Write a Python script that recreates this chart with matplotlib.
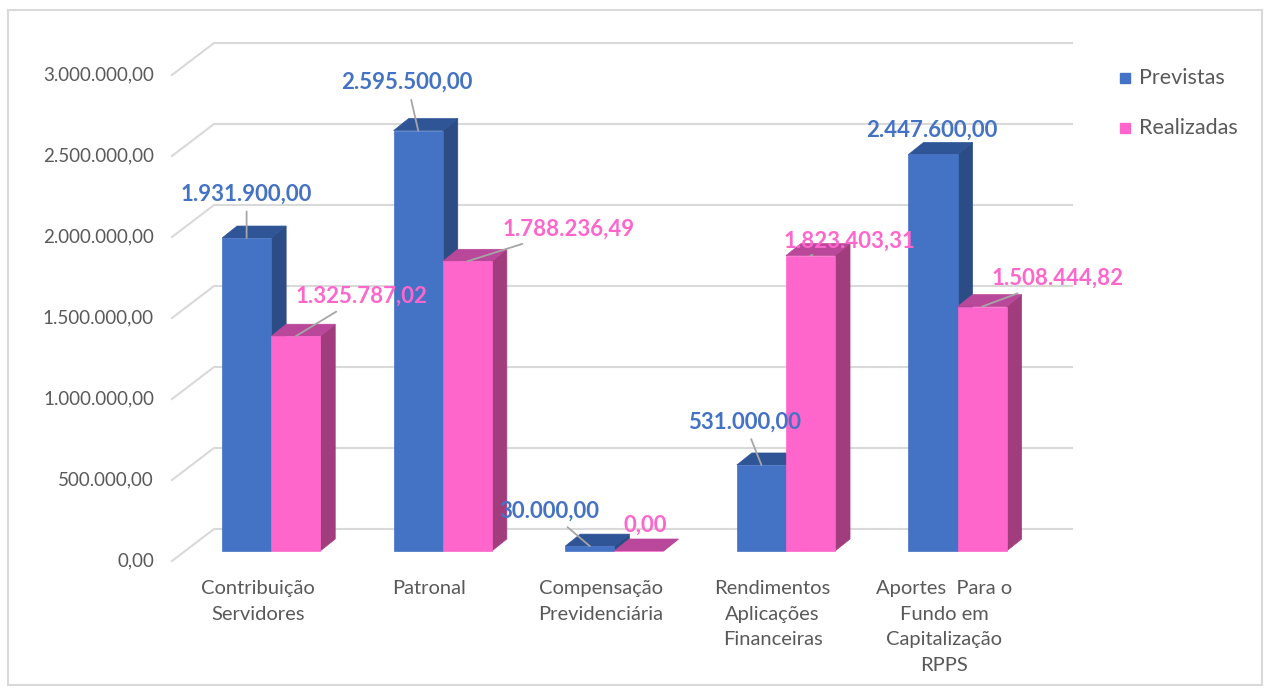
import matplotlib
matplotlib.use("Agg")
import matplotlib.pyplot as plt
from matplotlib.patches import Polygon, Rectangle
from matplotlib.transforms import IdentityTransform

plt.rcParams['font.family'] = ['Lato', 'DejaVu Sans']

# data
categories = ["Contribuição\nServidores", "Patronal", "Compensação\nPrevidenciária",
              "Rendimentos\nAplicações\nFinanceiras", "Aportes  Para o\nFundo em\nCapitalização\nRPPS"]
previstas = [1931900.00, 2595500.00, 30000.00, 531000.00, 2447600.00]
realizadas = [1325787.02, 1788236.49, 0.00, 1823403.31, 1508444.82]
yticks = [0, 500000, 1000000, 1500000, 2000000, 2500000, 3000000]
series_names = ["Previstas", "Realizadas"]

# colours: front, top, side
BLUE = ("#4472C4", "#2F5597", "#2C4C86")
PINK = ("#FF66CC", "#B9479A", "#A23D7D")
GRID = "#D9D9D9"
TXT = "#595959"

# 3d look (pixels)
DEPTH = (42, 32)      # full floor depth
BAR_OFF = (13, 10)    # bar front plane
BAR_D = (15, 12)      # bar thickness


def br(v):
    s = f"{v:,.2f}"
    return s.replace(",", "X").replace(".", ",").replace("X", ".")


fig = plt.figure(figsize=(12.7, 6.91), dpi=100)
fig.patches.append(Rectangle((8 / 1270, 6 / 691), 1254 / 1270, 675 / 691,
                             transform=fig.transFigure, fill=False,
                             edgecolor=GRID, lw=1.5))
ax = fig.add_axes([172 / 1270, 130 / 691, 858 / 1270, 486 / 691])
ax.set_xlim(0, len(categories))
ax.set_ylim(0, 3000000)
ax.axis("off")
T = ax.transData.transform
ID = IdentityTransform()

# gridlines: diagonal on the left wall, then straight along the back
for v in yticks:
    x0, y0 = T((0, v))
    x1, y1 = T((len(categories), v))
    ax.add_line(plt.Line2D([x0, x0 + DEPTH[0], x1 + DEPTH[0]],
                           [y0, y0 + DEPTH[1], y0 + DEPTH[1]],
                           transform=ID, color=GRID, lw=1.5, zorder=1, clip_on=False))
    ax.text(x0 - 18, y0, br(v), transform=ID, ha="right", va="center",
            fontsize=13.5, color=TXT)


def bar3d(xa, xb, h, cols, z):
    fx0, fy0 = T((xa, 0))
    fx1, fy1 = T((xb, h))
    fx0 += BAR_OFF[0]; fx1 += BAR_OFF[0]
    fy0 += BAR_OFF[1]; fy1 += BAR_OFF[1]
    dx, dy = BAR_D
    side = [(fx1, fy0), (fx1 + dx, fy0 + dy), (fx1 + dx, fy1 + dy), (fx1, fy1)]
    top = [(fx0, fy1), (fx1, fy1), (fx1 + dx, fy1 + dy), (fx0 + dx, fy1 + dy)]
    front = [(fx0, fy0), (fx1, fy0), (fx1, fy1), (fx0, fy1)]
    for pts, c in ((side, cols[2]), (top, cols[1]), (front, cols[0])):
        ax.add_patch(Polygon(pts, closed=True, facecolor=c, edgecolor=c, lw=0.5,
                             transform=ID, clip_on=False, zorder=z))
    return ((fx0 + fx1) / 2, fy1)


w = 0.286
# label offsets (pixels) from bar front-top centre
off_prev = [(0, 44), (-11, 48), (-41, 35), (-17, 43), (-1, 24)]
off_real = [(66, 40), (101, 32), (6, 26), (39, 14), (75, 28)]

for i in range(len(categories)):
    c = i + 0.502
    a1 = bar3d(c - w, c, previstas[i], BLUE, 3 + 2 * i)
    a2 = bar3d(c, c + w, realizadas[i], PINK, 4 + 2 * i)
    for anc, val, off, col in ((a1, previstas[i], off_prev[i], BLUE[0]),
                               (a2, realizadas[i], off_real[i], PINK[0])):
        line = None
        if abs(off[0]) > 10 or off[1] > 30:
            line = dict(arrowstyle="-", color="#A6A6A6", lw=1.3, shrinkA=3, shrinkB=0)
        ax.annotate(br(val), xy=anc, xycoords=ID,
                    xytext=(anc[0] + off[0], anc[1] + off[1]), textcoords=ID,
                    ha="center", va="center", fontsize=16, fontweight="bold",
                    color=col, zorder=20, arrowprops=line)
    bx, by = T((i + 0.5, 0))
    ax.text(bx, by - 19, categories[i], transform=ID, ha="center", va="top",
            fontsize=14.5, color=TXT, linespacing=1.62)

# legend
for k, (name, col) in enumerate(zip(series_names, (BLUE[0], PINK[0]))):
    ly = 691 - 78 - k * 50
    fig.patches.append(Rectangle((1120, ly - 5), 10, 10, transform=ID,
                                 facecolor=col, edgecolor=col))
    fig.text(1139, ly, name, transform=ID, ha="left", va="center",
             fontsize=15.5, color=TXT)

fig.savefig("out.png", dpi=100)
